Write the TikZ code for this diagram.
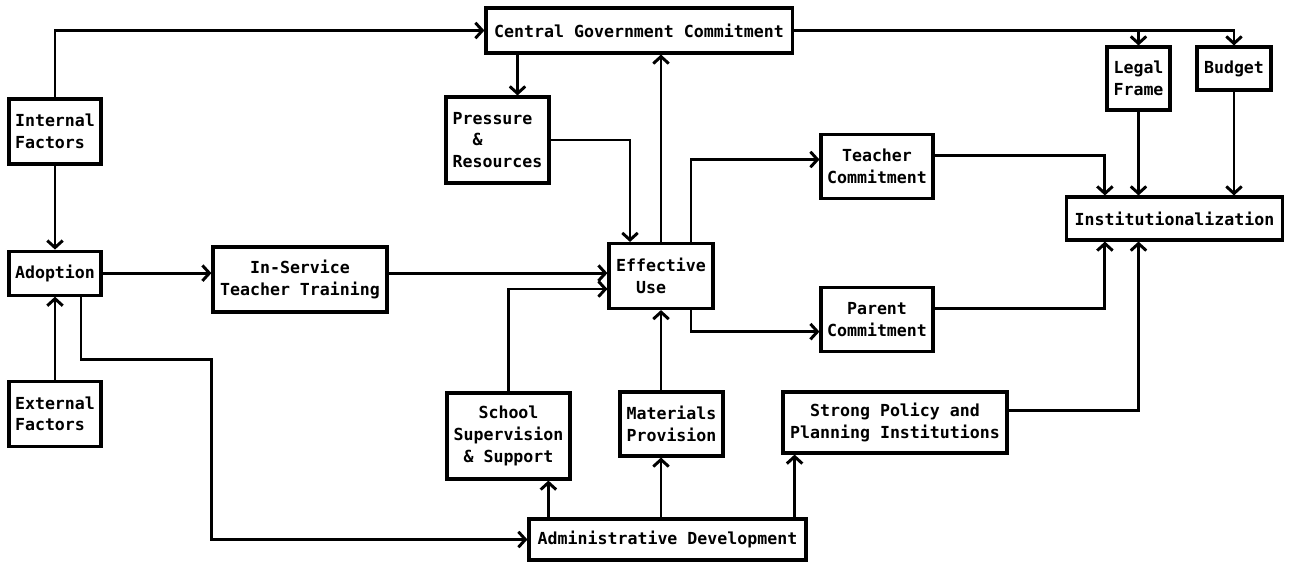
\documentclass[tikz,border=0pt]{standalone}
\usepackage{fontspec}
\usepackage{tikz}
\usetikzlibrary{arrows.meta, positioning, calc}
\newfontfamily\chartfont{DejaVu Sans Mono}

\tikzset{
  box/.style={draw, line width=2.2pt, align=center, inner sep=2pt,
    font=\chartfont\bfseries\fontsize{11.8}{15.5}\selectfont},
  arr/.style={line width=2.1pt, -{Straight Barb[length=5pt,width=11pt]}}
}

\begin{document}
\begin{tikzpicture}[x=0.025cm, y=-0.025cm, node distance=2.1cm]
        \useasboundingbox (0,0) rectangle (1290,562);

        % left column
        \node (internal) [box, align=left, minimum width=2.3cm, minimum height=1.625cm] at (55,131.5) {Internal\\Factors};
        \node (adopt) [box, minimum width=2.3cm, minimum height=1.1cm, below=of internal] {Adoption};
        \node (external) [box, align=left, minimum width=2.3cm, minimum height=1.625cm, below=2.075cm of adopt] {External\\Factors};
        \node (inservice) [box, minimum width=4.35cm, minimum height=1.625cm] at (300,279.5) {In-Service\\Teacher Training};

        % middle
        \node (cgc) [box, minimum width=7.65cm, minimum height=1.125cm] at (639,30.5) {Central Government Commitment};
        \node (pressure) [box, align=left, minimum width=2.575cm, minimum height=2.15cm] at (497.5,140) {Pressure\\~~\&\\Resources};
        \node (effuse) [box, align=left, minimum width=2.6cm, minimum height=1.625cm] at (661,276) {Effective\\~~Use};
        \node (school) [box, minimum width=3.075cm, minimum height=2.15cm] at (508.5,436) {School\\Supervision\\\& Support};
        \node (materials) [box, minimum width=2.575cm, minimum height=1.6cm] at (671.5,424) {Materials\\Provision};
        \node (policy) [box, minimum width=5.6cm, minimum height=1.525cm] at (895,422.5) {Strong Policy and\\Planning Institutions};
        \node (admin) [box, minimum width=6.925cm, minimum height=1.025cm] at (667.5,539.5) {Administrative Development};

        % right
        \node (teacher) [box, minimum width=2.8cm, minimum height=1.6cm] at (877,166.5) {Teacher\\Commitment};
        \node (parent) [box, minimum width=2.8cm, minimum height=1.6cm, below=2.15cm of teacher] {Parent\\Commitment};
        \node (legal) [box, minimum width=1.575cm, minimum height=1.575cm] at (1138.5,78.5) {Legal\\Frame};
        \node (budget) [box, minimum width=1.85cm, minimum height=1.075cm] at (1234,68.5) {Budget};
        \node (inst) [box, minimum width=5.4cm, minimum height=1.075cm] at (1174.5,218.5) {Institutionalization};

        \draw[arr] (internal.north) |- (cgc.west);
        \draw[arr] (internal) -- (adopt);
        \draw[arr] (external) -- (adopt);
        \draw[arr] (adopt) -- (adopt -| inservice.west);
        \draw[arr] ($(adopt.south)+(26,0)$) -- ++(0,63) -| (inservice.west |- admin.west) -- (admin.west);
        \draw[arr] (adopt -| inservice.east) -- (adopt -| effuse.west);

        \draw[arr] ($(pressure.north)+(20,-44)$) -- ($(pressure.north)+(20,0)$);
        \draw[arr] (pressure.east) -| ($(effuse.north)+(-31,0)$);
        \draw[arr] (effuse.north) -- (effuse.north |- cgc.south);
        \draw[arr] ($(effuse.north)+(30,0)$) |- ($(teacher.west)+(0,-7)$);
        \draw[arr] ($(effuse.south)+(30,0)$) |- ($(parent.west)+(0,12)$);
        \draw[arr] (school.north) |- ($(effuse.west)+(0,13)$);
        \draw[arr] (materials.north -| effuse.south) -- (effuse.south);

        \draw[arr] ($(admin.north west)+(21,0)$) coordinate (a1) -- (a1 |- school.south);
        \draw[arr] (admin.north -| effuse.south) -- (materials.south -| effuse.south);
        \draw[arr] ($(admin.north east)+(-13,0)$) coordinate (a3) -- (a3 |- policy.south);

        \draw[arr] (cgc.east) -| (legal.north);
        \draw[arr] (cgc.east) -| (budget.north);
        \draw[arr] ($(teacher.east)+(0,-11)$) -| ($(inst.north west)+(40,0)$);
        \draw[arr] (legal) -- (legal |- inst.north);
        \draw[arr] (budget) -- (budget |- inst.north);
        \draw[arr] ($(parent.east)+(0,-11)$) -| ($(inst.south west)+(40,0)$);
        \draw[arr] ($(policy.east)+(0,-12)$) -| (legal |- inst.south);
    \end{tikzpicture}
\end{document}
